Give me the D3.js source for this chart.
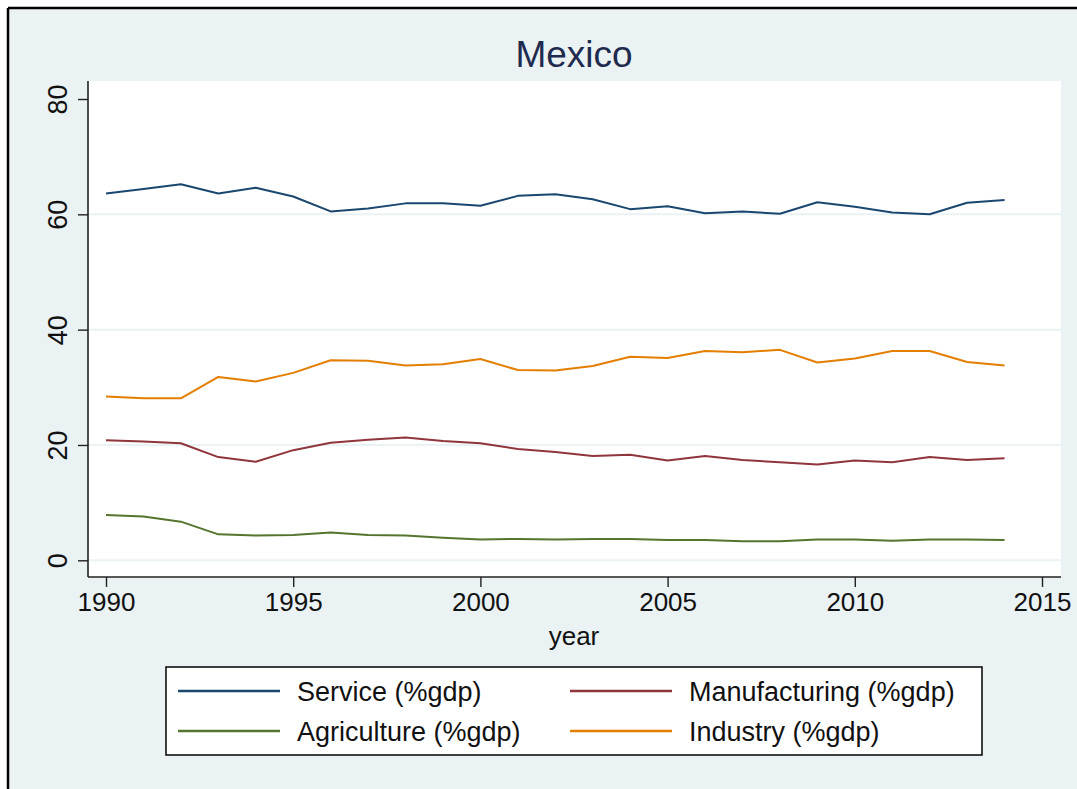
<!DOCTYPE html>
<html>
<head>
<meta charset="utf-8">
<script src="https://cdn.jsdelivr.net/npm/d3@7"></script>
<style>
  html, body { margin: 0; padding: 0; background: #ffffff; }
  svg { display: block; }
  text { font-family: "Liberation Sans", Arial, Helvetica, sans-serif; }
</style>
</head>
<body>
<svg id="chart" width="1077" height="789"></svg>
<script>
// ---- data ----
const years = [1990,1991,1992,1993,1994,1995,1996,1997,1998,1999,2000,2001,2002,2003,2004,2005,2006,2007,2008,2009,2010,2011,2012,2013,2014];
const service       = [63.6,64.4,65.2,63.6,64.6,63.1,60.5,61.0,61.9,61.9,61.5,63.2,63.5,62.6,60.9,61.4,60.2,60.5,60.1,62.1,61.3,60.3,60.0,62.0,62.5];
const manufacturing = [20.8,20.6,20.3,17.9,17.1,19.1,20.4,20.9,21.3,20.7,20.3,19.3,18.8,18.1,18.3,17.3,18.1,17.4,17.0,16.6,17.3,17.0,17.9,17.4,17.7];
const agriculture   = [7.85,7.6,6.7,4.5,4.3,4.4,4.8,4.4,4.3,3.9,3.6,3.7,3.6,3.7,3.7,3.5,3.5,3.3,3.3,3.6,3.6,3.4,3.6,3.6,3.5];
const industry      = [28.4,28.1,28.1,31.8,31.0,32.5,34.7,34.6,33.8,34.0,34.9,33.0,32.9,33.7,35.3,35.1,36.3,36.1,36.5,34.3,35.0,36.3,36.3,34.4,33.8];
const xTicks = [1990,1995,2000,2005,2010,2015];
const yTicks = [0,20,40,60,80];
const gridTicks = [0,20,40,60];
const seriesNames = ["Service (%gdp)","Manufacturing (%gdp)","Agriculture (%gdp)","Industry (%gdp)"];
const seriesColors = ["#1a476f","#90353b","#55752f","#e37e00"];
const seriesValues = [service, manufacturing, agriculture, industry];
const titleText = "Mexico";
const xLabel = "year";

// ---- layout ----
const svg = d3.select("#chart");
const W = 1077, H = 789;
const plot = {left: 88, right: 1061, top: 81, bottom: 577};
const bg = "#eaf2f3";

// outer background with frame
svg.append("rect").attr("x", 8).attr("y", 8).attr("width", W).attr("height", H)
  .attr("fill", bg);
svg.append("line").attr("x1", 8).attr("x2", W).attr("y1", 8).attr("y2", 8)
  .attr("stroke", "#000").attr("stroke-width", 2.5);
svg.append("line").attr("x1", 8).attr("x2", 8).attr("y1", 8).attr("y2", H)
  .attr("stroke", "#000").attr("stroke-width", 2.5);

// plot region
svg.append("rect").attr("x", plot.left).attr("y", plot.top)
  .attr("width", plot.right - plot.left).attr("height", plot.bottom - plot.top)
  .attr("fill", "#ffffff");

const x = d3.scaleLinear().domain([1990, 2015]).range([106, 1042]);
const y = d3.scaleLinear().domain([0, 80]).range([560.3, 99]);

// gridlines
svg.append("g").selectAll("line").data(gridTicks).join("line")
  .attr("x1", plot.left).attr("x2", plot.right)
  .attr("y1", d => y(d)).attr("y2", d => y(d))
  .attr("stroke", bg).attr("stroke-width", 2);

// axes
const yAxis = d3.axisLeft(y).tickValues(yTicks).tickSize(10).tickSizeOuter(0).tickPadding(10);
const gy = svg.append("g").attr("transform", `translate(${plot.left},0)`).call(yAxis);
gy.select(".domain").attr("d", `M0,${plot.top}V${plot.bottom}`).attr("stroke", "#222").attr("stroke-width", 1.6);
gy.selectAll(".tick line").attr("stroke", "#222").attr("stroke-width", 1.4);
gy.selectAll(".tick text")
  .attr("font-size", 27).attr("fill", "#111")
  .attr("text-anchor", "middle")
  .attr("x", 0).attr("dy", 0)
  .attr("transform", "translate(-21,0) rotate(-90)")
  .attr("y", 0);

const xAxis = d3.axisBottom(x).tickValues(xTicks).tickFormat(d3.format("d")).tickSize(10).tickSizeOuter(0).tickPadding(6);
const gx = svg.append("g").attr("transform", `translate(0,${plot.bottom})`).call(xAxis);
gx.select(".domain").attr("d", `M${plot.left},0H${plot.right}`).attr("stroke", "#222").attr("stroke-width", 1.6);
gx.selectAll(".tick line").attr("stroke", "#222").attr("stroke-width", 1.4);
gx.selectAll(".tick text").attr("font-size", 26).attr("fill", "#111");

// lines
const line = d3.line().x((d, i) => x(years[i])).y(d => y(d));
svg.append("g").selectAll("path").data(seriesValues).join("path")
  .attr("d", d => line(d))
  .attr("fill", "none")
  .attr("stroke", (d, i) => seriesColors[i])
  .attr("stroke-width", 2)
  .attr("stroke-linejoin", "round");

// title
svg.append("text").attr("x", 574).attr("y", 67).attr("text-anchor", "middle")
  .attr("font-size", 37).attr("fill", "#1f2a4f").text(titleText);

// x label
svg.append("text").attr("x", 574).attr("y", 645).attr("text-anchor", "middle")
  .attr("font-size", 26).attr("fill", "#111").text(xLabel);

// legend
const leg = svg.append("g");
leg.append("rect").attr("x", 166).attr("y", 667).attr("width", 816).attr("height", 88)
  .attr("fill", "#fff").attr("stroke", "#111").attr("stroke-width", 1.6);
const legPos = [
  {lx: 178, ty: 691}, {lx: 570, ty: 691},
  {lx: 178, ty: 731}, {lx: 570, ty: 731}
];
const items = leg.selectAll("g.item").data(seriesNames).join("g").attr("class", "item");
items.append("line")
  .attr("x1", (d, i) => legPos[i].lx).attr("x2", (d, i) => legPos[i].lx + 102)
  .attr("y1", (d, i) => legPos[i].ty).attr("y2", (d, i) => legPos[i].ty)
  .attr("stroke", (d, i) => seriesColors[i]).attr("stroke-width", 2.5);
items.append("text")
  .attr("x", (d, i) => legPos[i].lx + 119)
  .attr("y", (d, i) => legPos[i].ty + 10)
  .attr("font-size", 27).attr("fill", "#111")
  .text(d => d);
</script>
</body>
</html>
